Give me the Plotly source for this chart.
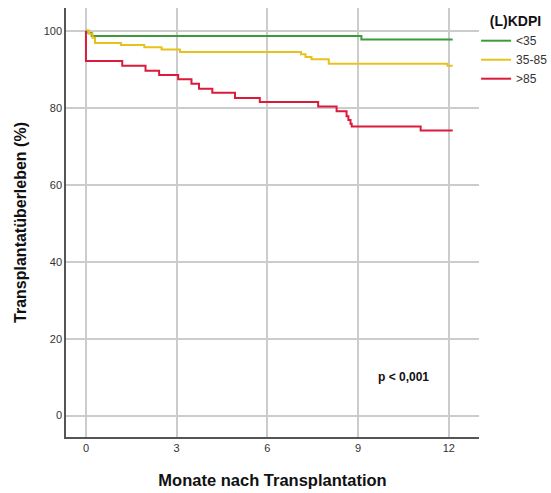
import plotly.graph_objects as go

# Kaplan-Meier step data (months, survival %)
green_t = [0, 0.08, 0.19, 9.11, 12.13]
green_s = [100, 99.4, 98.6, 97.7, 97.7]

yellow_t = [0, 0.10, 0.22, 0.30, 1.16, 1.93, 2.50, 3.11, 7.11, 7.26, 7.46, 8.03, 11.96, 12.13]
yellow_s = [100, 99.2, 98.2, 96.8, 96.3, 95.7, 95.1, 94.5, 93.9, 93.2, 92.6, 91.4, 90.9, 90.9]

red_t = [0, 0, 1.20, 1.97, 2.42, 3.05, 3.49, 3.74, 4.18, 4.93, 5.75, 7.68, 8.29, 8.62, 8.68, 8.75, 8.79, 11.07, 12.13]
red_s = [100, 92.1, 90.9, 89.6, 88.5, 87.4, 86.2, 84.9, 83.9, 82.5, 81.5, 80.3, 79.1, 77.8, 76.8, 75.8, 75.1, 74.1, 74.1]

names = ["<35", "35-85", ">85"]
colors = ["#3f9b3a", "#e6c21e", "#dc1a3c"]

x_ticks = [0, 3, 6, 9, 12]
y_ticks = [0, 20, 40, 60, 80, 100]

fig = go.Figure()
for t, s, n, c in zip([green_t, yellow_t, red_t], [green_s, yellow_s, red_s], names, colors):
    fig.add_trace(go.Scatter(x=t, y=s, mode="lines", name=n,
                             line=dict(color=c, width=2, shape="hv")))

fig.add_annotation(x=10.5, y=10, text="<b>p < 0,001</b>", showarrow=False,
                   font=dict(size=12, color="#111"), xref="x", yref="y")

fig.update_layout(
    width=551, height=493,
    margin=dict(l=66, r=72, t=8, b=56, autoexpand=False),
    paper_bgcolor="white", plot_bgcolor="white",
    font=dict(family="Liberation Sans, Arial, sans-serif", color="#222"),
    showlegend=True,
    legend=dict(
        title=dict(text="&nbsp;&nbsp;&nbsp;<b>(L)KDPI</b>", font=dict(size=14, color="#111")),
        x=0.993, y=1.0, xanchor="left", yanchor="top",
        font=dict(size=12, color="#333"),
        itemwidth=30, tracegroupgap=0,
        bgcolor="rgba(0,0,0,0)",
    ),
    xaxis=dict(
        range=[-0.66, 13.0], tickvals=x_ticks, ticktext=[str(v) for v in x_ticks],
        showgrid=True, gridcolor="#cccccc", gridwidth=1.5,
        showline=True, linecolor="#555555", linewidth=1.5,
        zeroline=False, ticks="", tickfont=dict(size=11, color="#333"),
        title=dict(text="<b>Monate nach Transplantation</b>", font=dict(size=16.5, color="#111"),
                   standoff=21),
    ),
    yaxis=dict(
        range=[-5.55, 105.9], tickvals=y_ticks, ticktext=[str(v) for v in y_ticks],
        showgrid=True, gridcolor="#cccccc", gridwidth=1.5,
        showline=True, linecolor="#555555", linewidth=1.5,
        zeroline=False, ticks="", tickfont=dict(size=11, color="#333"),
        title=dict(text="<b>Transplantatüberleben (%)</b>", font=dict(size=16, color="#111"),
                   standoff=13),
    ),
)

fig.write_html("out.html")
